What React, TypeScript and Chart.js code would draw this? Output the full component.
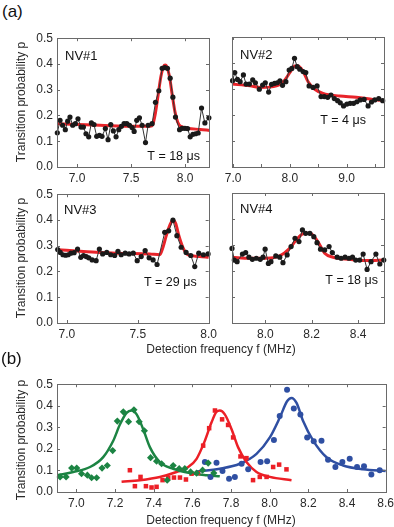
import React, { useEffect, useRef } from 'react';
import { Chart, registerables } from 'chart.js';
Chart.register(...registerables);

const FONT = "'Liberation Sans', Arial, Helvetica, sans-serif";

// ---------- NV#1 ----------
const nv1F = [6.818, 6.843, 6.867, 6.892, 6.914, 6.935, 6.960, 6.985, 7.009, 7.037, 7.059, 7.083, 7.108, 7.133, 7.157, 7.182, 7.207, 7.231, 7.262, 7.287, 7.312, 7.336, 7.361, 7.386, 7.410, 7.435, 7.460, 7.485, 7.509, 7.528, 7.552, 7.577, 7.602, 7.633, 7.657, 7.694, 7.725, 7.756, 7.787, 7.812, 7.836, 7.861, 7.886, 7.910, 7.948, 7.972, 7.997, 8.022, 8.046, 8.071, 8.096, 8.120, 8.151, 8.182, 8.219];
const nv1P = [0.133, 0.181, 0.162, 0.145, 0.178, 0.194, 0.162, 0.168, 0.187, 0.155, 0.155, 0.129, 0.117, 0.171, 0.165, 0.119, 0.123, 0.119, 0.149, 0.106, 0.165, 0.140, 0.117, 0.145, 0.158, 0.168, 0.168, 0.162, 0.153, 0.138, 0.181, 0.191, 0.162, 0.095, 0.162, 0.168, 0.251, 0.296, 0.383, 0.386, 0.383, 0.345, 0.271, 0.194, 0.145, 0.150, 0.150, 0.149, 0.117, 0.127, 0.129, 0.132, 0.229, 0.171, 0.191];
const nv1FitF = [6.818, 7.213, 7.522, 7.676, 7.700, 7.725, 7.750, 7.775, 7.800, 7.815, 7.830, 7.855, 7.880, 7.905, 7.930, 7.960, 8.139, 8.225];
const nv1FitP = [0.168, 0.162, 0.158, 0.158, 0.165, 0.210, 0.280, 0.350, 0.390, 0.396, 0.390, 0.350, 0.280, 0.215, 0.175, 0.158, 0.146, 0.142];

// ---------- NV#2 ----------
const nv2F = [6.99, 7.029, 7.076, 7.123, 7.181, 7.228, 7.287, 7.345, 7.392, 7.462, 7.520, 7.567, 7.626, 7.678, 7.731, 7.778, 7.825, 7.871, 7.930, 7.988, 8.035, 8.082, 8.129, 8.175, 8.234, 8.281, 8.339, 8.409, 8.480, 8.550, 8.608, 8.667, 8.725, 8.784, 8.842, 8.889, 8.947, 9.006, 9.064, 9.123, 9.181, 9.240, 9.310, 9.380, 9.439, 9.497, 9.567, 9.637];
const nv2P = [0.332, 0.363, 0.337, 0.328, 0.354, 0.319, 0.319, 0.335, 0.324, 0.299, 0.315, 0.324, 0.288, 0.318, 0.322, 0.324, 0.331, 0.314, 0.328, 0.373, 0.379, 0.418, 0.386, 0.376, 0.367, 0.363, 0.312, 0.306, 0.312, 0.271, 0.271, 0.268, 0.277, 0.263, 0.255, 0.247, 0.235, 0.242, 0.245, 0.245, 0.251, 0.258, 0.260, 0.235, 0.250, 0.258, 0.263, 0.255];
const nv2FitF = [6.98, 7.298, 7.474, 7.766, 7.912, 8.012, 8.088, 8.146, 8.234, 8.322, 8.439, 8.585, 8.877, 9.170, 9.462, 9.66];
const nv2FitP = [0.319, 0.312, 0.306, 0.312, 0.335, 0.367, 0.388, 0.388, 0.367, 0.328, 0.299, 0.283, 0.273, 0.268, 0.260, 0.255];

// ---------- NV#3 ----------
const nv3F = [6.935, 6.953, 6.972, 6.991, 7.009, 7.028, 7.051, 7.075, 7.098, 7.117, 7.136, 7.154, 7.178, 7.206, 7.229, 7.252, 7.281, 7.309, 7.337, 7.360, 7.383, 7.411, 7.439, 7.468, 7.496, 7.524, 7.552, 7.580, 7.608, 7.636, 7.690, 7.718, 7.748, 7.776, 7.806, 7.841, 7.874, 7.902, 7.930, 7.963, 7.996];
const nv3P = [0.285, 0.274, 0.265, 0.263, 0.265, 0.271, 0.273, 0.287, 0.255, 0.262, 0.258, 0.253, 0.245, 0.242, 0.287, 0.268, 0.274, 0.265, 0.262, 0.278, 0.265, 0.271, 0.268, 0.271, 0.242, 0.258, 0.281, 0.253, 0.245, 0.227, 0.352, 0.358, 0.399, 0.339, 0.294, 0.274, 0.262, 0.219, 0.271, 0.265, 0.268];
const nv3FitF = [6.935, 7.117, 7.351, 7.584, 7.655, 7.678, 7.701, 7.729, 7.748, 7.767, 7.790, 7.818, 7.853, 7.935, 8.0];
const nv3FitP = [0.284, 0.278, 0.271, 0.268, 0.265, 0.294, 0.339, 0.384, 0.399, 0.387, 0.339, 0.294, 0.265, 0.258, 0.255];

// ---------- NV#4 ----------
const nv4F = [7.856, 7.866, 7.878, 7.901, 7.915, 7.929, 7.944, 7.961, 7.978, 7.990, 7.999, 8.013, 8.024, 8.045, 8.062, 8.076, 8.094, 8.111, 8.128, 8.145, 8.160, 8.174, 8.192, 8.209, 8.223, 8.238, 8.256, 8.275, 8.289, 8.310, 8.327, 8.344, 8.361, 8.376, 8.390, 8.407, 8.422, 8.439, 8.456, 8.477, 8.494, 8.511];
const nv4P = [0.287, 0.242, 0.236, 0.265, 0.271, 0.253, 0.245, 0.249, 0.245, 0.253, 0.284, 0.229, 0.236, 0.258, 0.253, 0.232, 0.262, 0.294, 0.326, 0.313, 0.358, 0.345, 0.345, 0.332, 0.309, 0.284, 0.281, 0.294, 0.271, 0.253, 0.249, 0.253, 0.249, 0.253, 0.242, 0.242, 0.265, 0.206, 0.236, 0.265, 0.227, 0.242];
const nv4FitF = [7.856, 7.932, 8.004, 8.062, 8.105, 8.134, 8.163, 8.192, 8.213, 8.235, 8.256, 8.292, 8.364, 8.436, 8.515];
const nv4FitP = [0.253, 0.249, 0.249, 0.258, 0.287, 0.320, 0.343, 0.345, 0.330, 0.300, 0.268, 0.253, 0.245, 0.240, 0.242];

// ---------- (b) ----------
const greenF = [6.916, 6.947, 6.976, 7.002, 7.027, 7.057, 7.079, 7.105, 7.133, 7.160, 7.188, 7.212, 7.243, 7.270, 7.298, 7.325, 7.352, 7.384, 7.415, 7.441, 7.470, 7.501, 7.532, 7.561, 7.591, 7.622, 7.653, 7.682, 7.711];
const greenP = [0.070, 0.070, 0.111, 0.111, 0.085, 0.078, 0.066, 0.066, 0.111, 0.123, 0.192, 0.329, 0.372, 0.326, 0.381, 0.326, 0.284, 0.159, 0.143, 0.131, 0.055, 0.123, 0.108, 0.108, 0.093, 0.088, 0.101, 0.134, 0.088];
const greenFitF = [6.902, 6.984, 7.071, 7.139, 7.191, 7.226, 7.260, 7.286, 7.312, 7.346, 7.381, 7.432, 7.501, 7.587, 7.673, 7.742];
const greenFitP = [0.078, 0.093, 0.116, 0.162, 0.238, 0.314, 0.367, 0.378, 0.360, 0.291, 0.207, 0.139, 0.108, 0.088, 0.078, 0.073];

const redF = [7.277, 7.303, 7.332, 7.360, 7.389, 7.415, 7.446, 7.475, 7.505, 7.536, 7.567, 7.596, 7.629, 7.656, 7.687, 7.717, 7.754, 7.785, 7.811, 7.849, 7.880, 7.914, 7.949, 7.984, 8.018, 8.049, 8.087];
const redP = [0.101, 0.027, 0.070, 0.027, 0.021, 0.024, 0.055, 0.066, 0.067, 0.067, 0.058, 0.085, 0.088, 0.215, 0.296, 0.378, 0.337, 0.311, 0.253, 0.165, 0.157, 0.055, 0.070, 0.070, 0.116, 0.127, 0.105];
const redFitF = [7.234, 7.329, 7.432, 7.518, 7.579, 7.622, 7.665, 7.699, 7.725, 7.742, 7.768, 7.803, 7.837, 7.880, 7.932, 8.001, 8.113];
const redFitP = [0.047, 0.055, 0.070, 0.093, 0.116, 0.154, 0.238, 0.322, 0.372, 0.378, 0.360, 0.291, 0.207, 0.139, 0.093, 0.070, 0.055];

const blueF = [7.665, 7.694, 7.725, 7.756, 7.790, 7.820, 7.855, 7.889, 7.953, 7.987, 8.022, 8.052, 8.090, 8.125, 8.159, 8.194, 8.228, 8.268, 8.302, 8.340, 8.376, 8.414, 8.452, 8.488, 8.526, 8.569];
const blueP = [0.139, 0.070, 0.136, 0.097, 0.061, 0.070, 0.131, 0.105, 0.139, 0.143, 0.241, 0.352, 0.474, 0.387, 0.360, 0.253, 0.235, 0.238, 0.150, 0.116, 0.139, 0.154, 0.116, 0.120, 0.081, 0.101];
const blueFitF = [7.620, 7.742, 7.846, 7.932, 8.001, 8.052, 8.090, 8.113, 8.139, 8.173, 8.225, 8.294, 8.380, 8.483, 8.60];
const blueFitP = [0.095, 0.108, 0.131, 0.177, 0.253, 0.344, 0.421, 0.436, 0.413, 0.329, 0.238, 0.161, 0.123, 0.105, 0.097];

// ---------- ticks ----------
const yTicks = [0, 0.1, 0.2, 0.3, 0.4, 0.5];
const nv1XTicks = [7.0, 7.5, 8.0];
const nv2XTicks = [7.0, 7.5, 8.0, 8.5, 9.0, 9.5];
const nv2XLabels = [7.0, 8.0, 9.0];
const nv3XTicks = [7.0, 7.5, 8.0];
const nv4XTicks = [8.0, 8.2, 8.4];
const bXTicks = [7.0, 7.2, 7.4, 7.6, 7.8, 8.0, 8.2, 8.4, 8.6];

const pts = (f: number[], p: number[]) => f.map((x, i) => ({ x, y: p[i] }));

const AX_COLOR = '#6a6a6a';
const TXT_COLOR = '#2a2a2a';

const framePlugin = {
  id: 'frame',
  afterDatasetsDraw(chart: any, _args: any, opts: any) {
    const { ctx, chartArea: a, scales } = chart;
    ctx.save();
    ctx.strokeStyle = AX_COLOR;
    ctx.lineWidth = 1;
    ctx.strokeRect(Math.round(a.left) + 0.5, Math.round(a.top) + 0.5, Math.round(a.right - a.left), Math.round(a.bottom - a.top));
    const L = 3;
    ctx.beginPath();
    for (const t of scales.x.ticks) {
      const px = Math.round(scales.x.getPixelForValue(t.value)) + 0.5;
      ctx.moveTo(px, a.bottom); ctx.lineTo(px, a.bottom - L);
      ctx.moveTo(px, a.top); ctx.lineTo(px, a.top + L);
    }
    for (const t of scales.y.ticks) {
      const py = Math.round(scales.y.getPixelForValue(t.value)) + 0.5;
      ctx.moveTo(a.left, py); ctx.lineTo(a.left + L, py);
      ctx.moveTo(a.right, py); ctx.lineTo(a.right - L, py);
    }
    ctx.stroke();
    ctx.fillStyle = '#111';
    for (const n of (opts.notes || [])) {
      ctx.font = `${n.size || 13}px ${FONT}`;
      if (n.from === 'tl') {
        ctx.textAlign = 'left';
        ctx.fillText(n.text, a.left + n.dx, a.top + n.dy);
      } else {
        ctx.textAlign = 'right';
        ctx.fillText(n.text, a.right - n.dx, a.bottom - n.dy);
      }
    }
    ctx.restore();
  },
};

type PanelProps = {
  left: number; top: number; areaW: number; areaH: number;
  yW: number; xH: number; padTop: number; padRight: number;
  xMin: number; xMax: number; xTicks: number[]; xLabels?: number[]; xDec: number;
  showY: boolean; datasets: any[]; notes: any[];
};

function Panel(p: PanelProps) {
  const ref = useRef<HTMLCanvasElement>(null);
  const w = p.yW + p.areaW + p.padRight;
  const h = p.padTop + p.areaH + p.xH;
  useEffect(() => {
    if (!ref.current) return;
    const tickFont = { family: FONT, size: 12 };
    const chart = new Chart(ref.current, {
      type: 'scatter',
      data: { datasets: p.datasets },
      options: {
        animation: false,
        responsive: false,
        devicePixelRatio: 1,
        layout: { padding: { top: p.padTop, right: p.padRight, left: 0, bottom: 0 } },
        plugins: { legend: { display: false }, tooltip: { enabled: false }, frame: { notes: p.notes } } as any,
        scales: {
          x: {
            type: 'linear', min: p.xMin, max: p.xMax,
            grid: { display: false, drawTicks: false },
            border: { display: false },
            ticks: {
              font: tickFont, color: TXT_COLOR, padding: 4, maxRotation: 0, autoSkip: false, includeBounds: false,
              callback: (v: any) => {
                const n = Number(v);
                const lab = p.xLabels || p.xTicks;
                return lab.some((l) => Math.abs(l - n) < 1e-6) ? n.toFixed(p.xDec) : '';
              },
            },
            afterBuildTicks: (s: any) => { s.ticks = p.xTicks.map((v) => ({ value: v })); },
            afterFit: (s: any) => { s.height = p.xH; },
          },
          y: {
            type: 'linear', min: 0, max: 0.5,
            grid: { display: false, drawTicks: false },
            border: { display: false },
            ticks: {
              display: p.showY, font: tickFont, color: TXT_COLOR, padding: 4, includeBounds: false,
              callback: (v: any) => Number(v).toFixed(1),
            },
            afterBuildTicks: (s: any) => { s.ticks = yTicks.map((v) => ({ value: v })); },
            afterFit: (s: any) => { s.width = p.yW; },
          },
        },
      } as any,
      plugins: [framePlugin as any],
    });
    return () => chart.destroy();
  }, []);
  return (
    <canvas
      ref={ref}
      width={w}
      height={h}
      style={{ position: 'absolute', left: p.left - p.yW, top: p.top - p.padTop, width: w, height: h }}
    />
  );
}

const RED_FIT = '#e8242a';
const dataSet = (f: number[], p: number[]) => ({
  data: pts(f, p), showLine: true, borderColor: '#333', borderWidth: 1,
  pointRadius: 2.6, pointBackgroundColor: '#1a1a1a', pointBorderWidth: 0, clip: false,
});
const fitSet = (f: number[], p: number[], color: string, width: number) => ({
  data: pts(f, p), showLine: true, borderColor: color, borderWidth: width,
  pointRadius: 0, cubicInterpolationMode: 'monotone', clip: false,
});

const GREEN = '#1c8443';
const RED = '#ec1f26';
const BLUE = '#2f4fa2';

export default function App() {
  const common = { yW: 45, xH: 22, padTop: 10, padRight: 12 };
  const rightCommon = { yW: 12, xH: 22, padTop: 10, padRight: 12 };
  const txt: React.CSSProperties = { position: 'absolute', fontFamily: FONT, color: TXT_COLOR, whiteSpace: 'nowrap', fontSize: 12 };
  const yTitle = (cy: number) => (
    <div style={{ ...txt, left: 21, top: cy, transform: 'translate(-50%, -50%) rotate(-90deg)' }}>Transition probability p</div>
  );
  const xTitle = (cy: number) => (
    <div style={{ ...txt, left: 221, top: cy, transform: 'translate(-50%, -50%)' }}>Detection frequency f (MHz)</div>
  );
  return (
    <div style={{ position: 'absolute', left: 0, top: 0, width: 394, height: 527, overflow: 'hidden', background: '#fff' }}>
      <Panel {...common} left={57} top={37} areaW={152} areaH={130} xMin={6.815} xMax={8.22} xTicks={nv1XTicks} xDec={1} showY
        datasets={[dataSet(nv1F, nv1P), fitSet(nv1FitF, nv1FitP, RED_FIT, 3)]}
        notes={[{ text: 'NV#1', from: 'tl', dx: 8, dy: 22 }, { text: 'T = 18 \u03bcs', from: 'br', dx: 9, dy: 7, size: 12.5 }]} />
      <Panel {...rightCommon} left={232} top={37} areaW={152} areaH={130} xMin={6.98} xMax={9.66} xTicks={nv2XTicks} xLabels={nv2XLabels} xDec={1} showY={false}
        datasets={[dataSet(nv2F, nv2P), fitSet(nv2FitF, nv2FitP, RED_FIT, 3)]}
        notes={[{ text: 'NV#2', from: 'tl', dx: 8, dy: 22 }, { text: 'T = 4 \u03bcs', from: 'br', dx: 18, dy: 43, size: 12.5 }]} />
      <Panel {...common} left={57} top={193} areaW={152} areaH={130} xMin={6.93} xMax={8.0} xTicks={nv3XTicks} xDec={1} showY
        datasets={[dataSet(nv3F, nv3P), fitSet(nv3FitF, nv3FitP, RED_FIT, 3)]}
        notes={[{ text: 'NV#3', from: 'tl', dx: 7, dy: 20 }, { text: 'T = 29 \u03bcs', from: 'br', dx: 12, dy: 37, size: 12.5 }]} />
      <Panel {...rightCommon} left={232} top={193} areaW={152} areaH={130} xMin={7.856} xMax={8.512} xTicks={nv4XTicks} xDec={1} showY={false}
        datasets={[dataSet(nv4F, nv4P), fitSet(nv4FitF, nv4FitP, RED_FIT, 3)]}
        notes={[{ text: 'NV#4', from: 'tl', dx: 8, dy: 20 }, { text: 'T = 18 \u03bcs', from: 'br', dx: 6, dy: 39, size: 12.5 }]} />
      <Panel {...common} left={57} top={383} areaW={329} areaH={109} xMin={6.9} xMax={8.6} xTicks={bXTicks} xDec={1} showY
        datasets={[
          { data: pts(greenF, greenP), showLine: false, pointStyle: 'rectRot', pointRadius: 3.6, pointBackgroundColor: GREEN, pointBorderWidth: 0, clip: false },
          { data: pts(redF, redP), showLine: false, pointStyle: 'rect', pointRadius: 3.2, pointBackgroundColor: RED, pointBorderWidth: 0, clip: false },
          { data: pts(blueF, blueP), showLine: false, pointStyle: 'circle', pointRadius: 3, pointBackgroundColor: BLUE, pointBorderWidth: 0, clip: false },
          fitSet(greenFitF, greenFitP, GREEN, 2.5),
          fitSet(redFitF, redFitP, RED, 2.5),
          fitSet(blueFitF, blueFitP, BLUE, 2.5),
        ]}
        notes={[]} />
      <div style={{ ...txt, left: 2, top: 2, fontSize: 17, color: '#111' }}>(a)</div>
      <div style={{ ...txt, left: 1, top: 349, fontSize: 17, color: '#111' }}>(b)</div>
      {yTitle(102)}
      {yTitle(258)}
      {yTitle(440)}
      {xTitle(349)}
      {xTitle(520)}
    </div>
  );
}
